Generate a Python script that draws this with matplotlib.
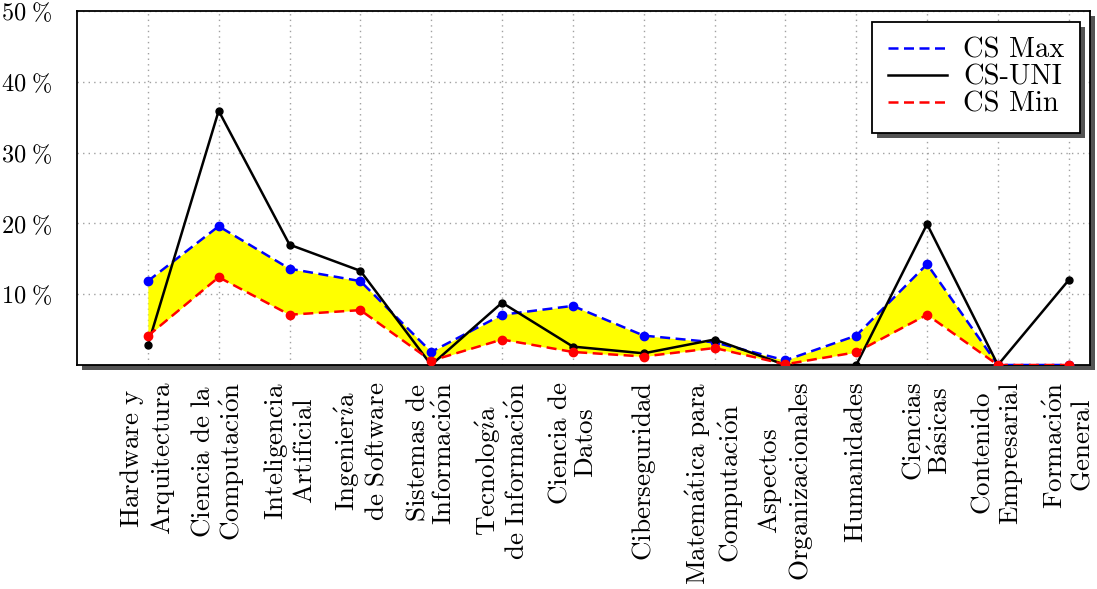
import matplotlib
matplotlib.use("Agg")
import matplotlib.pyplot as plt
import matplotlib.patheffects as pe
from matplotlib.lines import Line2D
import numpy as np

# ---- datos (% del total de creditos por area) ----
categories = [
    "Hardware y\nArquitectura",
    "Ciencia de la\nComputación",
    "Inteligencia\nArtificial",
    "Ingeniería\nde Software",
    "Sistemas de\nInformación",
    "Tecnología\nde Información",
    "Ciencia de\nDatos",
    "Ciberseguridad",
    "Matemática para\nComputación",
    "Aspectos\nOrganizacionales",
    "Humanidades",
    "Ciencias\nBásicas",
    "Contenido\nEmpresarial",
    "Formación\nGeneral",
]
cs_max = [11.85, 19.6, 13.6, 11.85, 1.85, 7.1, 8.35, 4.15, 3.2, 0.66, 4.15, 14.25, 0.0, 0.0]
cs_uni = [2.8, 35.9, 17.0, 13.3, 0.0, 8.8, 2.6, 1.65, 3.6, 0.0, 0.0, 19.9, 0.0, 12.0]
cs_min = [4.1, 12.4, 7.1, 7.75, 0.6, 3.6, 1.84, 1.2, 2.4, 0.1, 1.8, 7.1, 0.0, 0.0]
yticks = [10, 20, 30, 40, 50]
series_names = ["CS Max", "CS-UNI", "CS Min"]

plt.rcParams["mathtext.fontset"] = "cm"
plt.rcParams["font.family"] = ["cmr10", "DejaVu Serif"]

ACC = {"á": r"\acute{a}", "é": r"\acute{e}", "í": r"\acute{\imath}", "ó": r"\acute{o}"}


def cm(s):
    # cada linea como mathtext en Computer Modern
    out = []
    for line in s.split("\n"):
        t = line.replace(" ", r"\ ")
        for a, b in ACC.items():
            t = t.replace(a, b)
        out.append(r"$\mathrm{" + t + "}$")
    return "\n".join(out)


x = np.arange(len(categories))
DASH = (0, (4.0, 2.2))
LW = 1.8

fig = plt.figure(figsize=(10.97, 5.89), dpi=100)
ax = fig.add_axes([77 / 1097, 1 - 365 / 589, (1090 - 77) / 1097, (365 - 11) / 589])

shadow = [pe.SimplePatchShadow(offset=(3.6, -3.6), shadow_rgbFace="0.33", alpha=1.0), pe.Normal()]
ax.patch.set_path_effects(shadow)

ax.fill_between(x, cs_min, cs_max, color="#ffff00", linewidth=0, zorder=1)
ax.plot(x, cs_max, color="#0000ff", linestyle=DASH, linewidth=LW,
        marker="o", markersize=6, zorder=3)
ax.plot(x, cs_uni, color="black", linestyle="-", linewidth=LW,
        marker="o", markersize=5, zorder=4)
ax.plot(x, cs_min, color="#ff0000", linestyle=DASH, linewidth=LW,
        marker="o", markersize=6, zorder=5)

ax.set_xlim(-1.0, 13.3)
ax.set_ylim(0, 50)
ax.set_xticks(x)
ax.set_xticklabels([cm(c) for c in categories], rotation=90, ha="center", va="top",
                   multialignment="center", fontsize=19.5, linespacing=1.15)
ax.set_yticks(yticks)
ax.set_yticklabels([r"$%d\;\%%$" % v for v in yticks], fontsize=17.5)
ax.tick_params(axis="both", length=0)
ax.tick_params(axis="x", pad=12)
ax.tick_params(axis="y", pad=18)

ax.grid(True, color="#a0a0a0", linestyle=(0, (1, 3)), linewidth=1.0, zorder=0)
ax.set_axisbelow(True)
for sp in ax.spines.values():
    sp.set_linewidth(1.3)
    sp.set_color("black")

# leyenda solo con lineas (sin marcadores)
handles = [
    Line2D([], [], color="#0000ff", linestyle=DASH, linewidth=LW),
    Line2D([], [], color="black", linestyle="-", linewidth=LW),
    Line2D([], [], color="#ff0000", linestyle=DASH, linewidth=LW),
]
leg = ax.legend(handles, series_names, loc="upper right", bbox_to_anchor=(0.99, 0.969),
                borderaxespad=0, fancybox=False, framealpha=1, edgecolor="black",
                fontsize=20.5, handlelength=2.1, handletextpad=0.55, labelspacing=0.02,
                borderpad=0.55)
frame = leg.get_frame()
frame.set_linewidth(1.3)
frame.set_path_effects(shadow)

fig.savefig("out.png", dpi=100)
